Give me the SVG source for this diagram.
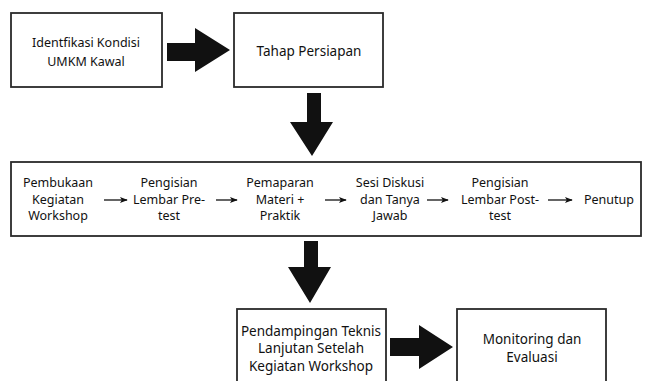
<svg xmlns="http://www.w3.org/2000/svg" width="645" height="381" viewBox="0 0 645 381">
<defs>
<style>
.box{fill:#fff;stroke:#2a2a2a;stroke-width:1.8}
.t{font-family:"Comic Sans MS","Noto Sans",sans-serif;fill:#111;text-anchor:middle}
.s12{font-size:12.5px}
.s13{font-size:13.5px}
.big{fill:#111}
.thin{stroke:#111;stroke-width:1.3;fill:none;marker-end:url(#ah)}
</style>
<marker id="ah" viewBox="0 0 10 10" refX="9" refY="5" markerWidth="8" markerHeight="8" markerUnits="userSpaceOnUse" orient="auto">
<path d="M0,1 L10,5 L0,9 L2.5,5 Z" fill="#111"/>
</marker>
</defs>
<rect width="645" height="381" fill="#fff"/>
<g id="n1">
<rect class="box" x="11" y="13" width="151" height="74"/>
<text class="t s12" x="86" y="47">Identfikasi Kondisi</text>
<text class="t s12" x="86" y="66">UMKM Kawal</text>
</g>
<g id="n2">
<rect class="box" x="234" y="13" width="149" height="74"/>
<text class="t s13" x="309" y="56">Tahap Persiapan</text>
</g>
<g id="n3">
<rect class="box" x="11" y="162" width="630" height="74"/>
<text class="t s12" x="58" y="187">Pembukaan</text>
<text class="t s12" x="58" y="204">Kegiatan</text>
<text class="t s12" x="58" y="220">Workshop</text>
<text class="t s12" x="169" y="187">Pengisian</text>
<text class="t s12" x="169" y="204">Lembar Pre-</text>
<text class="t s12" x="169" y="220">test</text>
<text class="t s12" x="280" y="187">Pemaparan</text>
<text class="t s12" x="280" y="204">Materi +</text>
<text class="t s12" x="280" y="220">Praktik</text>
<text class="t s12" x="390" y="187">Sesi Diskusi</text>
<text class="t s12" x="390" y="204">dan Tanya</text>
<text class="t s12" x="390" y="220">Jawab</text>
<text class="t s12" x="500" y="187">Pengisian</text>
<text class="t s12" x="500" y="204">Lembar Post-</text>
<text class="t s12" x="500" y="220">test</text>
<text class="t s12" x="609" y="204">Penutup</text>
</g>
<g id="n4">
<rect class="box" x="237" y="309" width="149" height="80"/>
<text class="t s13" x="311" y="336">Pendampingan Teknis</text>
<text class="t s13" x="311" y="353">Lanjutan Setelah</text>
<text class="t s13" x="311" y="371">Kegiatan Workshop</text>
</g>
<g id="n5">
<rect class="box" x="457" y="309" width="149" height="80"/>
<text class="t s13" x="532" y="344">Monitoring dan</text>
<text class="t s13" x="532" y="362">Evaluasi</text>
</g>
<g id="connectors">
<polygon class="big" points="167,43 195,43 195,28 230,50 195,72 195,61 167,61"/>
<polygon class="big" points="307,93 321,93 321,122 333,122 312,156 290,122 307,122"/>
<polygon class="big" points="304,241 318,241 318,267 331,267 310,303 288,267 304,267"/>
<polygon class="big" points="390,338 419,338 419,325 453,347 419,369 419,356 390,356"/>
<line class="thin" x1="104" y1="200" x2="127" y2="200"/>
<line class="thin" x1="216" y1="200" x2="237" y2="200"/>
<line class="thin" x1="325" y1="200" x2="346" y2="200"/>
<line class="thin" x1="427" y1="200" x2="448" y2="200"/>
<line class="thin" x1="548" y1="200" x2="572" y2="200"/>
</g>
</svg>
